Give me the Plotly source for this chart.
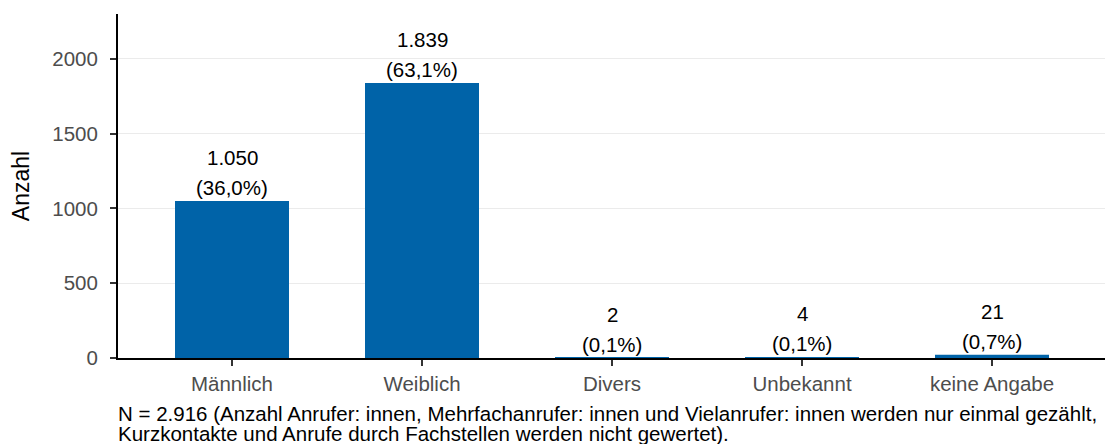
import plotly.graph_objects as go

categories = ["Männlich", "Weiblich", "Divers", "Unbekannt", "keine Angabe"]
counts = [1050, 1839, 2, 4, 21]
y_ticks = [0, 500, 1000, 1500, 2000]
caption_lines = [
    "N = 2.916 (Anzahl Anrufer: innen, Mehrfachanrufer: innen und Vielanrufer: innen werden nur einmal gezählt,",
    "Kurzkontakte und Anrufe durch Fachstellen werden nicht gewertet).",
]

_BLUE = "#0063a8"
_FONT = "Liberation Sans, Arial, sans-serif"
_SIZE = 20.5

total = sum(counts)
count_labels = [f"{c:,}".replace(",", ".") for c in counts]
pct_labels = [f"({c / total * 100:.1f}%)".replace(".", ",") for c in counts]

fig = go.Figure(go.Bar(
    x=categories, y=counts,
    marker_color=_BLUE, marker_line_width=0, width=0.6,
    hoverinfo="skip",
))

# two-line value labels above each bar
for cat, c, cl, pl in zip(categories, counts, count_labels, pct_labels):
    fig.add_annotation(x=cat, y=c, text=pl, showarrow=False, yanchor="bottom",
                       yshift=0, font=dict(size=_SIZE, color="black", family=_FONT))
    fig.add_annotation(x=cat, y=c, text=cl, showarrow=False, yanchor="bottom",
                       yshift=30, font=dict(size=_SIZE, color="black", family=_FONT))

# caption below the x axis (tight line spacing like the original)
for i, line in enumerate(caption_lines):
    fig.add_annotation(
        xref="paper", yref="paper", x=0, y=0, xanchor="left", yanchor="top",
        xshift=-2, yshift=-42 - 20 * i, showarrow=False, text=line,
        font=dict(size=_SIZE, color="black", family=_FONT),
    )

fig.update_layout(
    width=1105, height=444, autosize=False,
    paper_bgcolor="white", plot_bgcolor="white",
    margin=dict(l=110, r=7, t=6, b=94),
    showlegend=False,
    font=dict(family=_FONT),
    xaxis=dict(
        range=[-0.6, 4.6], showline=True, linecolor="black", linewidth=2,
        ticks="outside", ticklen=6, tickcolor="#333333", tickwidth=2,
        tickfont=dict(size=_SIZE, color="#4d4d4d"), showgrid=False,
    ),
    yaxis=dict(
        range=[0, 2300], tickvals=y_ticks, showline=True, linecolor="black", linewidth=2,
        ticks="outside", ticklen=6, tickcolor="#333333", tickwidth=2,
        ticklabelstandoff=8,
        tickfont=dict(size=_SIZE, color="#4d4d4d"),
        gridcolor="#ebebeb", gridwidth=1, zeroline=False,
        title=dict(text="Anzahl", font=dict(size=23, color="black"), standoff=18),
    ),
)

fig.write_html("out.html")
